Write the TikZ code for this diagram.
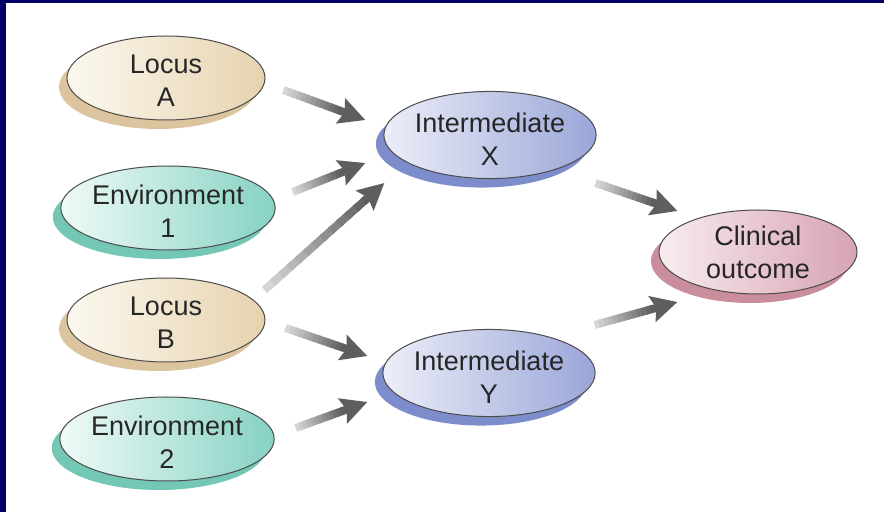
\documentclass[tikz,border=0pt]{standalone}
\usepackage{fontspec}
\setmainfont{Liberation Sans}
\usetikzlibrary{shapes.geometric,arrows.meta,calc,shadows}

\definecolor{frame}{HTML}{000066}
\definecolor{locA}{HTML}{FCF8EF}
\definecolor{locB}{HTML}{E6D3AF}
\definecolor{locS}{HTML}{DCC59E}
\definecolor{envA}{HTML}{EFFAF7}
\definecolor{envB}{HTML}{86D2C3}
\definecolor{envS}{HTML}{74C6B5}
\definecolor{intA}{HTML}{ECEEF8}
\definecolor{intB}{HTML}{9AA6D8}
\definecolor{intS}{HTML}{7D8DCB}
\definecolor{cliA}{HTML}{F8ECEF}
\definecolor{cliB}{HTML}{D7A3B2}
\definecolor{cliS}{HTML}{C98D9C}

\newcommand\flow[4]{%
  \coordinate (fs) at ([shift={(#2)}]#1);
  \coordinate (fe) at ([shift={(#4)}]#3);
  \coordinate (fm) at ($(fe)!14pt!(fs)$);
  \foreach \k [evaluate=\k as \tone using int(16+4*\k)] in {0,...,11}
    \draw[flowline, draw=black!\tone] ($(fs)!\k/12!(fm)$) -- ($(fs)!\k/12+0.11!(fm)$);
  \draw[flowline, draw=black!63, -{Stealth[length=13pt,width=13pt,inset=2pt]}] (fm) -- (fe);
}

\begin{document}
\begin{tikzpicture}[x=0.5pt,y=-0.5pt,
  blob/.style={ellipse, minimum width=99pt, minimum height=42pt, inner sep=0pt,
    draw=black!70, line width=0.5pt, align=center, text=black!85,
    font=\fontsize{13.5}{16.5}\selectfont},
  locus/.style={blob, text height=28.3pt, text depth=-2pt,
    left color=locA, right color=locB,
    general shadow={fill=locS, shadow xshift=-4pt, shadow yshift=-4.5pt}},
  envir/.style={blob, text height=29.3pt, text depth=-3pt,
    left color=envA, right color=envB,
    general shadow={fill=envS, shadow xshift=-4pt, shadow yshift=-4.5pt}},
  inter/.style={blob, text height=30.8pt, text depth=-4.5pt,
    left color=intA, right color=intB,
    general shadow={fill=intS, shadow xshift=-4pt, shadow yshift=-4.5pt}},
  clinic/.style={blob, left color=cliA, right color=cliB,
    general shadow={fill=cliS, shadow xshift=-4pt, shadow yshift=-4.5pt}},
  flowline/.style={line width=4pt}]
  \fill[white] (0,0) rectangle (884,512);
  \fill[frame] (0,0) rectangle (884,3);
  \fill[frame] (0,0) rectangle (6,512);
  \useasboundingbox (0,0) rectangle (884,512);

  \node[locus] (la) at (166,78) {Locus\\A};
  \node[envir] (e1) at (168,208) {Environment\\1};
  \node[locus] (lb) at (166,320) {Locus\\B};
  \node[envir] (e2) at (167,439) {Environment\\2};
  \node[inter] (ix) at (490,135) {Intermediate\\X};
  \node[inter] (iy) at (489,373) {Intermediate\\Y};
  \node[clinic] (co) at (758,252) {Clinical\\outcome};

  \flow{la.east}{18,12}{ix.west}{-18,-15}
  \flow{e1.east}{17,-16}{ix.west}{-18,28}
  \flow{lb.east}{-1,-30}{ix.west}{1,48}
  \flow{lb.east}{20,8}{iy.west}{-15,-17}
  \flow{e2.east}{21,-11}{iy.west}{-15,29}
  \flow{ix.east}{-1,48}{co.west}{19,-41}
  \flow{iy.east}{-1,-48}{co.west}{19,50}
\end{tikzpicture}
\end{document}
